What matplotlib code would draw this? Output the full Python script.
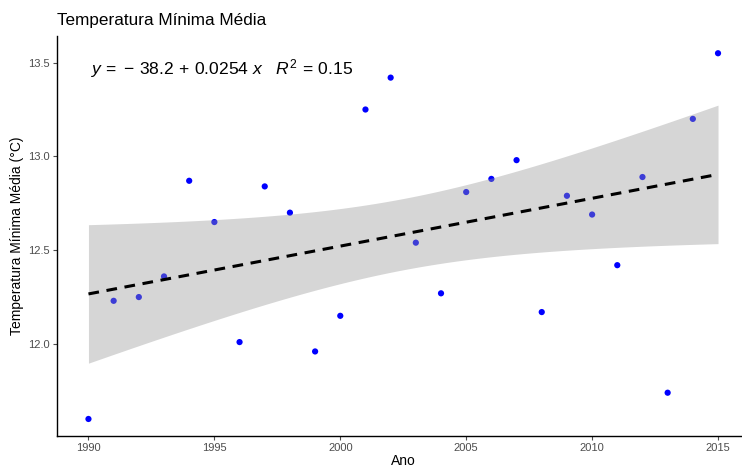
import numpy as np
import matplotlib.pyplot as plt

plt.rcParams['font.family'] = ['Liberation Sans', 'DejaVu Sans']
plt.rcParams['mathtext.fontset'] = 'custom'
plt.rcParams['mathtext.rm'] = 'Liberation Sans'
plt.rcParams['mathtext.it'] = 'Liberation Sans:italic'

# data
anos = np.arange(1990, 2016)
temp_min = [11.60, 12.23, 12.25, 12.36, 12.87, 12.65, 12.01, 12.84, 12.70, 11.96,
            12.15, 13.25, 13.42, 12.54, 12.27, 12.81, 12.88, 12.98, 12.17, 12.79,
            12.69, 12.42, 12.89, 11.74, 13.20, 13.55]
yticks = [12.0, 12.5, 13.0, 13.5]
xticks = [1990, 1995, 2000, 2005, 2010, 2015]

x = anos.astype(float)
y = np.array(temp_min)

# linear fit + 95% confidence band (t with 24 df)
b, a = np.polyfit(x, y, 1)
n = len(x)
resid = y - (a + b * x)
s = np.sqrt(np.sum(resid ** 2) / (n - 2))
xs = np.linspace(x.min(), x.max(), 100)
ys = a + b * xs
se = s * np.sqrt(1 / n + (xs - x.mean()) ** 2 / np.sum((x - x.mean()) ** 2))
t = 2.0639

fig = plt.figure(figsize=(7.42, 4.68), dpi=100)
ax = fig.add_axes([0.0768, 0.0675, 0.9333, 0.8556])

ax.scatter(x, y, s=20, color='#0000ff', edgecolors='none', zorder=2)
ax.fill_between(xs, ys - t * se, ys + t * se, color='#999999', alpha=0.4,
                linewidth=0, zorder=3)
ax.plot(xs, ys, color='black', linestyle=(0, (3.5, 2.5)), linewidth=2.2, zorder=4)

ax.text(1990.05, 13.435,
        r"$y\,=\,-\,38.2\,+\,0.0254\ x\quad R^2\,=\,0.15$",
        fontsize=12.6, color='black', ha='left', va='baseline')

ax.set_xlim(1988.75, 2016.25)
ax.set_ylim(11.507, 13.642)
ax.set_xticks(xticks)
ax.set_yticks(yticks)
ax.set_yticklabels([f"{v:.1f}" for v in yticks])
ax.tick_params(colors='#4d4d4d', labelsize=8, length=3, width=0.8, pad=2)
for side in ['top', 'right']:
    ax.spines[side].set_visible(False)
for side in ['left', 'bottom']:
    ax.spines[side].set_linewidth(1.0)
    ax.spines[side].set_color('black')

ax.set_xlabel("Ano", fontsize=10, labelpad=0.5)
ax.set_ylabel("Temperatura Mínima Média (°C)", fontsize=10, labelpad=3)
ax.set_title("Temperatura Mínima Média", loc='left', fontsize=12.3, pad=8)

plt.savefig("out.png", dpi=100)
